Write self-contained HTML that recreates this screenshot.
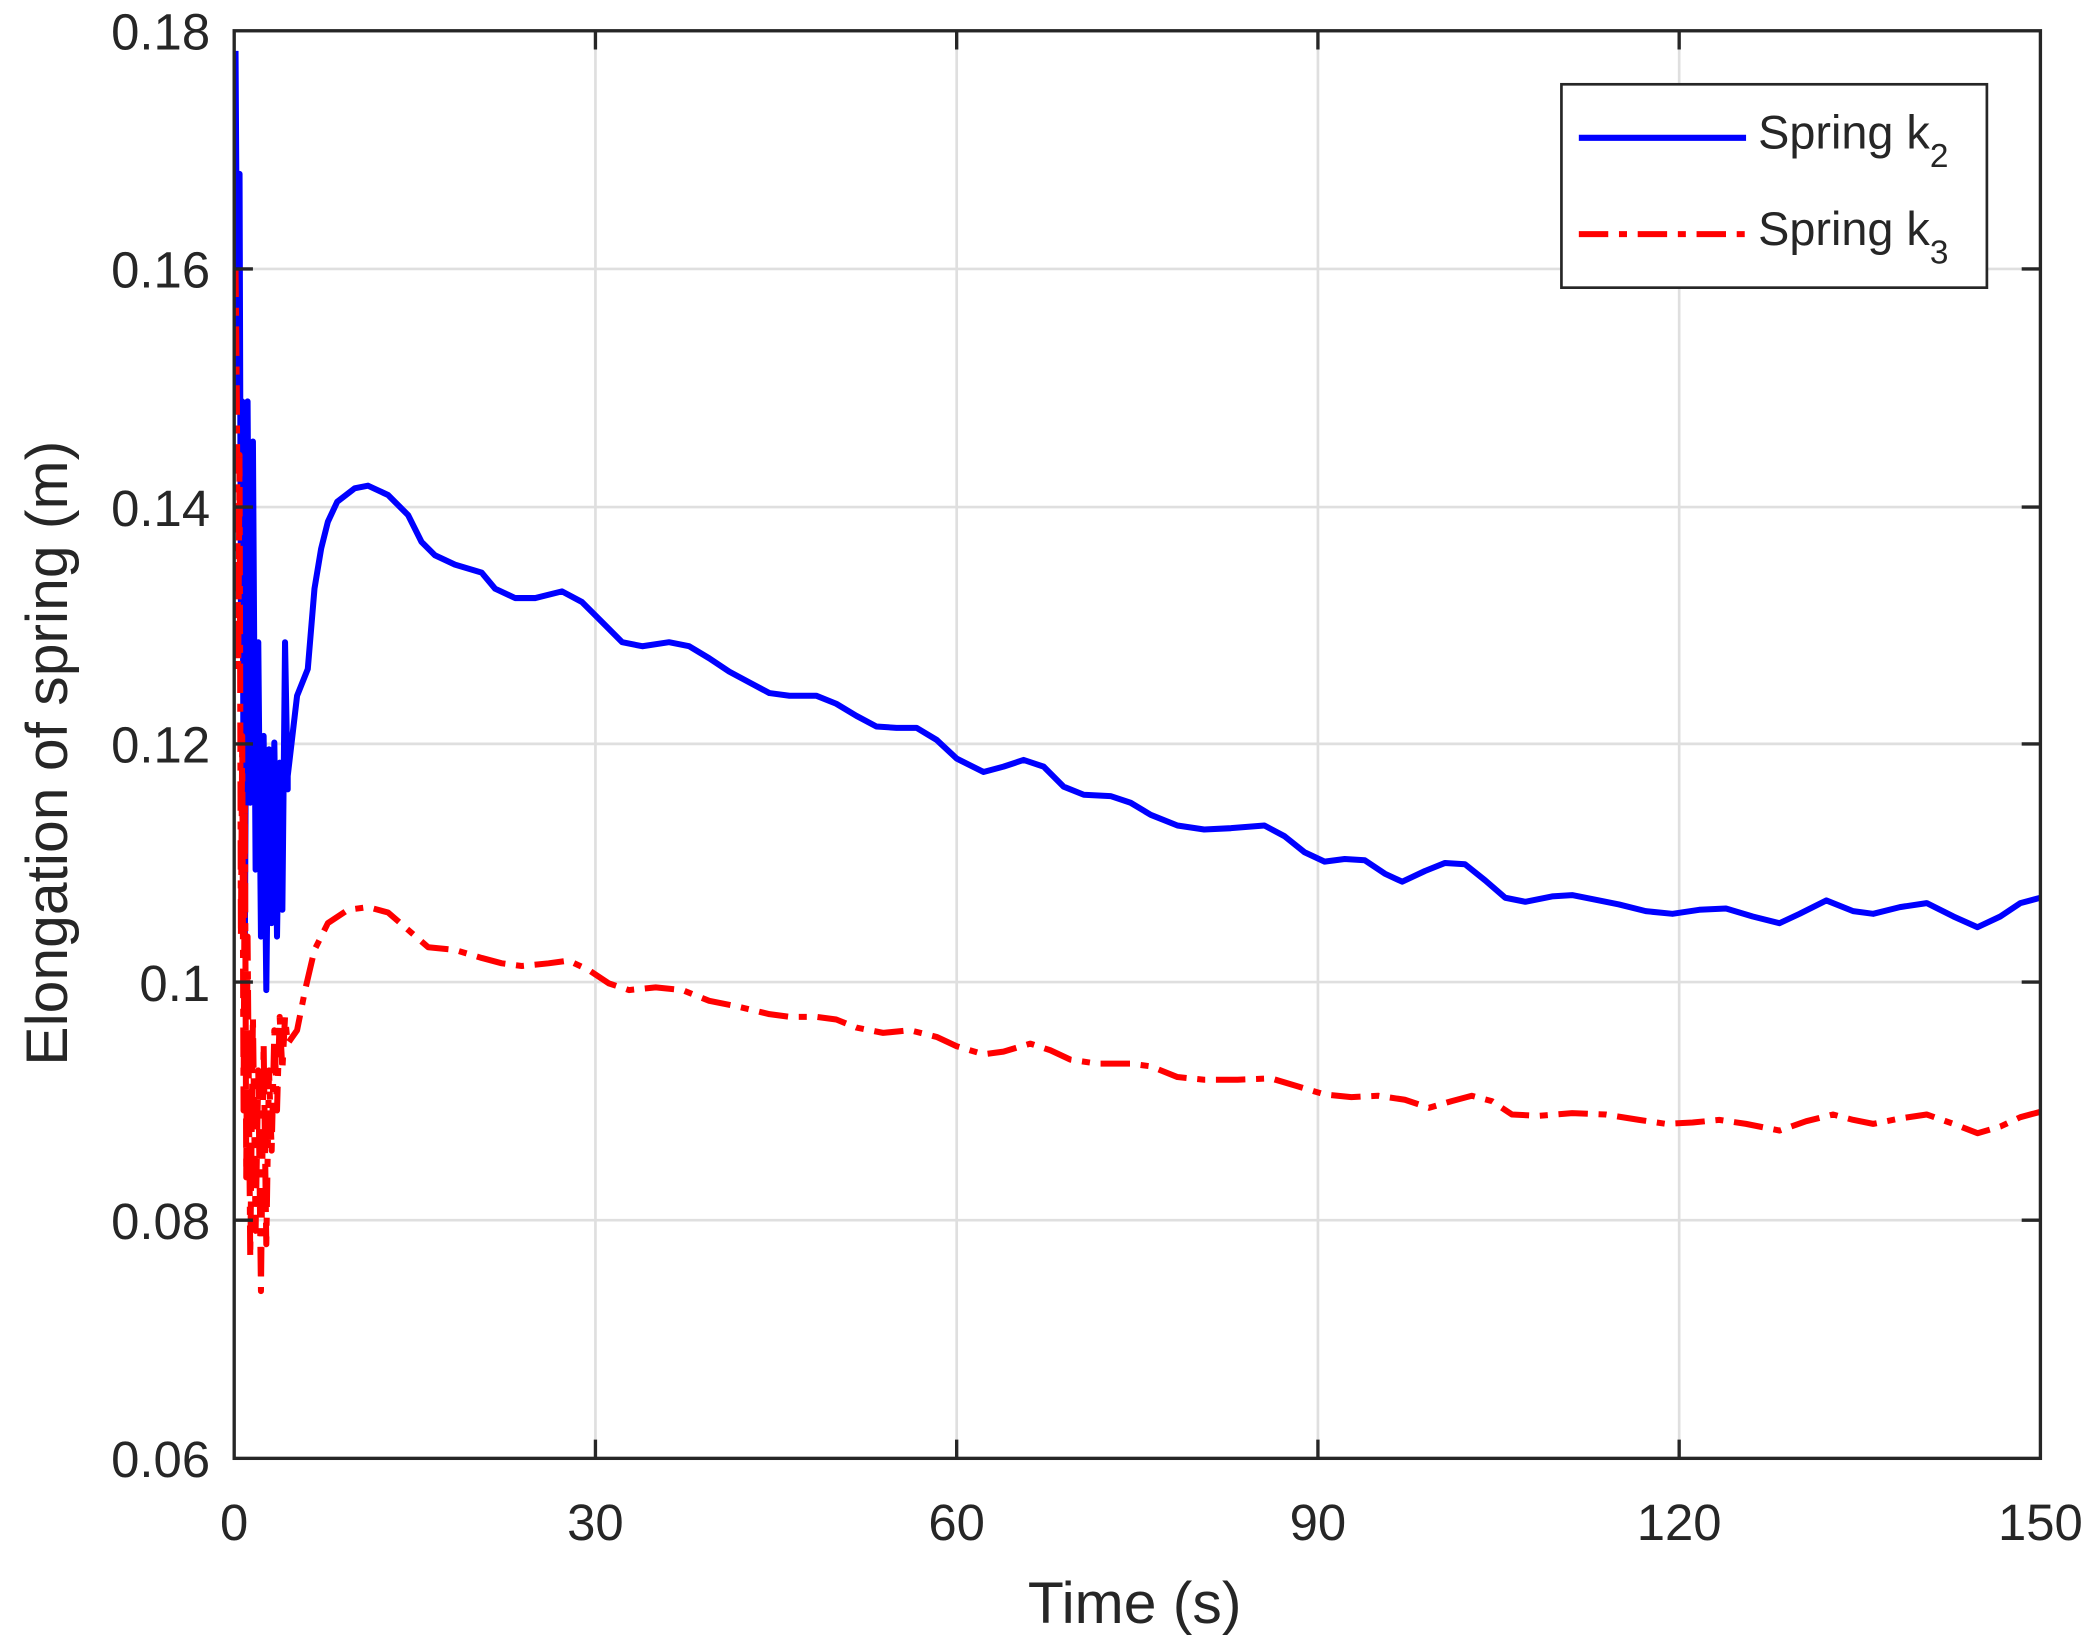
<!DOCTYPE html>
<html><head><meta charset="utf-8"><style>
html,body{margin:0;padding:0;background:#fff;}
svg{display:block;}
text{font-family:"Liberation Sans",sans-serif;fill:#262626;}
</style></head><body>
<svg width="2098" height="1647" viewBox="0 0 1568 1231" xmlns="http://www.w3.org/2000/svg">
<rect width="1568" height="1231" fill="#fff"/>
<g stroke="#dfdfdf" stroke-width="2">
<line x1="445" y1="23" x2="445" y2="1090"/><line x1="715" y1="23" x2="715" y2="1090"/>
<line x1="985" y1="23" x2="985" y2="1090"/><line x1="1255" y1="23" x2="1255" y2="1090"/>
<line x1="175" y1="201" x2="1525" y2="201"/><line x1="175" y1="379" x2="1525" y2="379"/>
<line x1="175" y1="556" x2="1525" y2="556"/><line x1="175" y1="734" x2="1525" y2="734"/>
<line x1="175" y1="912" x2="1525" y2="912"/>
</g>
<polyline fill="none" stroke="#0000ff" stroke-width="4.5" stroke-linejoin="round" points="176,38 177,200 178,300 179,130 180,450 181,300 182,600 183,700 184,500 185,300 187,600 189,330 191,650 193,480 195,700 197,550 199,740 201,560 203,690 205,555 207,700 209,570 211,680 213,480 215,590 215,580 222,520 230,500 235,440 240,410 245,390 252,375 265,365 275,363 290,370 305,385 315,405 325,415 340,422 360,428 370,440 385,447 400,447 420,442 435,450 450,465 465,480 480,483 500,480 515,483 530,492 545,502 560,510 575,518 590,520 610,520 625,526 640,535 655,543 670,544 685,544 700,553 715,567 735,577 750,573 765,568 780,573 795,588 810,594 830,595 845,600 860,609 880,617 900,620 920,619 945,617 960,625 975,637 990,644 1005,642 1020,643 1035,653 1048,659 1065,651 1080,645 1095,646 1110,658 1125,671 1140,674 1160,670 1175,669 1190,672 1210,676 1230,681 1250,683 1270,680 1290,679 1310,685 1330,690 1345,683 1365,673 1385,681 1400,683 1420,678 1440,675 1460,685 1478,693 1495,685 1510,675 1525,671"/>
<polyline fill="none" stroke="#ff0000" stroke-width="4.5" stroke-dasharray="22,8,6,8" stroke-linejoin="round" points="176,200 177,300 178,500 179,340 180,700 181,550 182,830 183,600 184,880 185,700 187,940 189,760 191,920 193,800 195,965 197,780 199,930 201,800 203,860 205,770 207,830 209,760 211,800 213,760 215,780 222,770 228,740 235,710 245,690 260,680 275,678 290,682 305,695 320,708 340,710 360,716 375,720 390,722 410,720 425,718 440,725 455,735 470,740 490,738 510,740 530,748 550,752 575,758 590,760 610,760 625,762 640,768 660,772 680,770 700,775 715,782 735,788 750,786 770,780 785,785 800,792 820,795 845,795 860,797 880,805 900,807 925,807 950,806 970,812 990,818 1010,820 1030,819 1050,822 1068,828 1085,823 1100,819 1115,823 1130,833 1150,834 1175,832 1200,833 1225,837 1245,840 1265,839 1285,837 1305,840 1330,845 1350,838 1370,833 1385,837 1400,840 1420,836 1440,833 1460,840 1478,847 1495,842 1510,835 1525,831"/>
<rect x="175" y="23" width="1350" height="1067" fill="none" stroke="#262626" stroke-width="2.5"/>
<g stroke="#262626" stroke-width="2.5">
<line x1="445" y1="1090" x2="445" y2="1076"/><line x1="715" y1="1090" x2="715" y2="1076"/><line x1="985" y1="1090" x2="985" y2="1076"/><line x1="1255" y1="1090" x2="1255" y2="1076"/>
<line x1="445" y1="23" x2="445" y2="37"/><line x1="715" y1="23" x2="715" y2="37"/><line x1="985" y1="23" x2="985" y2="37"/><line x1="1255" y1="23" x2="1255" y2="37"/>
<line x1="175" y1="201" x2="189" y2="201"/><line x1="175" y1="379" x2="189" y2="379"/><line x1="175" y1="556" x2="189" y2="556"/><line x1="175" y1="734" x2="189" y2="734"/><line x1="175" y1="912" x2="189" y2="912"/>
<line x1="1525" y1="201" x2="1511" y2="201"/><line x1="1525" y1="379" x2="1511" y2="379"/><line x1="1525" y1="556" x2="1511" y2="556"/><line x1="1525" y1="734" x2="1511" y2="734"/><line x1="1525" y1="912" x2="1511" y2="912"/>
</g>
<g font-size="38" text-anchor="end">
<text x="157" y="37">0.18</text><text x="157" y="215">0.16</text><text x="157" y="393">0.14</text><text x="157" y="570">0.12</text><text x="157" y="748">0.1</text><text x="157" y="926">0.08</text><text x="157" y="1104">0.06</text>
</g>
<g font-size="38" text-anchor="middle">
<text x="175" y="1151">0</text><text x="445" y="1151">30</text><text x="715" y="1151">60</text><text x="985" y="1151">90</text><text x="1255" y="1151">120</text><text x="1525" y="1151">150</text>
</g>
<text x="848" y="1213" font-size="44" text-anchor="middle">Time (s)</text>
<text transform="translate(50,563) rotate(-90)" font-size="44" text-anchor="middle">Elongation of spring (m)</text>
<rect x="1167" y="63" width="318" height="152" fill="#fff" stroke="#262626" stroke-width="2"/>
<line x1="1180" y1="103" x2="1305" y2="103" stroke="#0000ff" stroke-width="4.5"/>
<line x1="1180" y1="175" x2="1305" y2="175" stroke="#ff0000" stroke-width="4.5" stroke-dasharray="22,8,6,8"/>
<text x="1314" y="111" font-size="35">Spring k<tspan font-size="25" dy="14">2</tspan></text>
<text x="1314" y="183" font-size="35">Spring k<tspan font-size="25" dy="14">3</tspan></text>
</svg>
</body></html>
